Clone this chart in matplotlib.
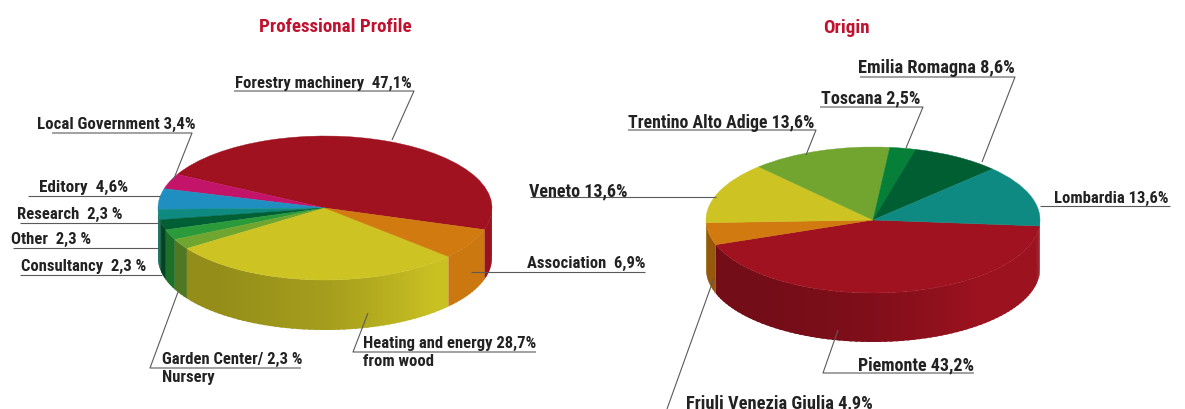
import numpy as np
import matplotlib
matplotlib.use("Agg")
import matplotlib.pyplot as plt
from matplotlib.patches import Wedge
from matplotlib.collections import PolyCollection
from matplotlib.transforms import Affine2D
from matplotlib.colors import to_rgb

plt.rcParams['font.family'] = ['Roboto Condensed', 'Archivo Narrow', 'Asap Condensed', 'Liberation Sans', 'DejaVu Sans']

profile_names = ["Forestry machinery", "Local Government", "Editory", "Research", "Other",
                 "Consultancy", "Garden Center/ Nursery", "Heating and energy from wood", "Association"]
profile_values = [47.1, 3.4, 4.6, 2.3, 2.3, 2.3, 2.3, 28.7, 6.9]
profile_colors = ["#a01220", "#c4146a", "#1e8fc0", "#0e8a80", "#005f35", "#2a9a3a", "#6fa630", "#cdc423", "#d07a10"]

origin_names = ["Piemonte", "Friuli Venezia Giulia", "Veneto", "Trentino Alto Adige", "Toscana",
                "Emilia Romagna", "Lombardia"]
origin_values = [43.2, 4.9, 13.6, 13.6, 2.5, 8.6, 13.6]
origin_colors = ["#a01220", "#d07a10", "#cdc423", "#72a530", "#068038", "#005e33", "#0f8a82"]

LINE = "#5a5a5a"
TEXT = "#222222"


def side_shade(angle):
    # rim gets lighter from the left side to the right side
    return np.interp(angle, [180, 230, 270, 310, 345, 360], [0.72, 0.72, 0.80, 0.98, 0.98, 0.88])


def draw_pie(ax, cx, cy, rx, ry, depth, values, colors, start, direction):
    # y axis is flipped (pixels), so mirror the ellipse to keep angles counter-clockwise
    trans = Affine2D().scale(rx, -ry).translate(cx, cy) + ax.transData
    spans = np.array(values) / sum(values) * 360
    angle = start
    for span, color in zip(spans, colors):
        a1, a2 = sorted([angle, angle + direction * span])
        # side wall, only the part turned towards the viewer
        polys, shades = [], []
        for a in np.arange(a1, a2, 2.0):
            b = min(a + 2.0, a2)
            if np.sin(np.radians(a)) > 0.02 and np.sin(np.radians(b)) > 0.02:
                continue
            mid = (a + b) / 2 % 360
            b2 = min(b + 1.0, a2)  # overlap the next strip so no seams show
            xs = cx + rx * np.cos(np.radians([a, b2]))
            ys = cy - ry * np.sin(np.radians([a, b2]))
            polys.append([(xs[0], ys[0]), (xs[1], ys[1]), (xs[1], ys[1] + depth), (xs[0], ys[0] + depth)])
            shades.append(np.clip(np.array(to_rgb(color)) * side_shade(mid), 0, 1))
        if polys:
            ax.add_collection(PolyCollection(polys, facecolors=shades, edgecolors='none', zorder=1))
        ax.add_patch(Wedge((0, 0), 1, a1, a2, transform=trans, facecolor=color, edgecolor=color, linewidth=0.3, zorder=2))
        angle += direction * span


def callout(ax, text, tx, ty, line, second=None, size=12):
    ax.plot(*zip(*line), color=LINE, lw=0.8, zorder=3, solid_capstyle='butt')
    ax.text(tx, ty, text, fontsize=size, fontweight='bold', color=TEXT, ha='left', va='baseline', zorder=4)
    if second:
        ax.text(tx, ty + 18, second, fontsize=size, fontweight='bold', color=TEXT, ha='left', va='baseline', zorder=4)


fig = plt.figure(figsize=(11.85, 4.1), dpi=100)
ax = fig.add_axes([0, 0, 1, 1])
ax.set_xlim(0, 1185)
ax.set_ylim(410, 0)
ax.axis('off')

draw_pie(ax, 325, 209, 167, 72, 50, profile_values, profile_colors, -17.5, 1)
draw_pie(ax, 873, 221, 167, 73, 49, origin_values, origin_colors, -4.7, -1)

ax.text(335, 32, "Professional Profile", fontsize=13.7, fontweight='bold', color="#c0122f", ha='center', va='baseline')
ax.text(846, 33, "Origin", fontsize=13.7, fontweight='bold', color="#c0122f", ha='center', va='baseline')

callout(ax, "Forestry machinery  47,1%", 235, 88, [(234, 92), (414, 92), (392, 141)])
callout(ax, "Local Government 3,4%", 37, 129, [(52, 134), (192, 134), (173, 182)], size=12.2)
callout(ax, "Editory  4,6%", 39, 192, [(28, 197), (160, 197)], size=12.3)
callout(ax, "Research  2,3 %", 17, 219, [(20, 224), (158, 224)])
callout(ax, "Other  2,3 %", 11, 244, [(13, 249), (158, 249)])
callout(ax, "Consultancy  2,3 %", 21, 271, [(20, 276), (162, 276)])
callout(ax, "Garden Center/ 2,3 %", 162, 364, [(178, 293), (150, 369), (301, 369)], "Nursery")
callout(ax, "Heating and energy 28,7%", 363, 348, [(368, 314), (353, 353), (536, 353)], "from wood")
callout(ax, "Association  6,9%", 527, 268, [(471, 273), (645, 273)])

callout(ax, "Veneto 13,6%", 529, 196, [(530, 198), (716, 198)], size=13)
callout(ax, "Trentino Alto Adige 13,6%", 628, 128, [(628, 131), (816, 131), (806, 156)], size=12.8)
callout(ax, "Toscana 2,5%", 821, 103, [(820, 108), (923, 108), (906, 149)], size=13)
callout(ax, "Emilia Romagna 8,6%", 858, 73, [(860, 78), (1015, 78), (982, 163)], size=13.2)
callout(ax, "Lombardia 13,6%", 1054, 203, [(1040, 207), (1170, 207)])
callout(ax, "Piemonte 43,2%", 858, 370, [(838, 331), (823, 374), (974, 374)], size=13)
callout(ax, "Friuli Venezia Giulia 4,9%", 686, 408, [(714, 279), (667, 410)], size=13.2)

fig.savefig("out.png", dpi=100)
